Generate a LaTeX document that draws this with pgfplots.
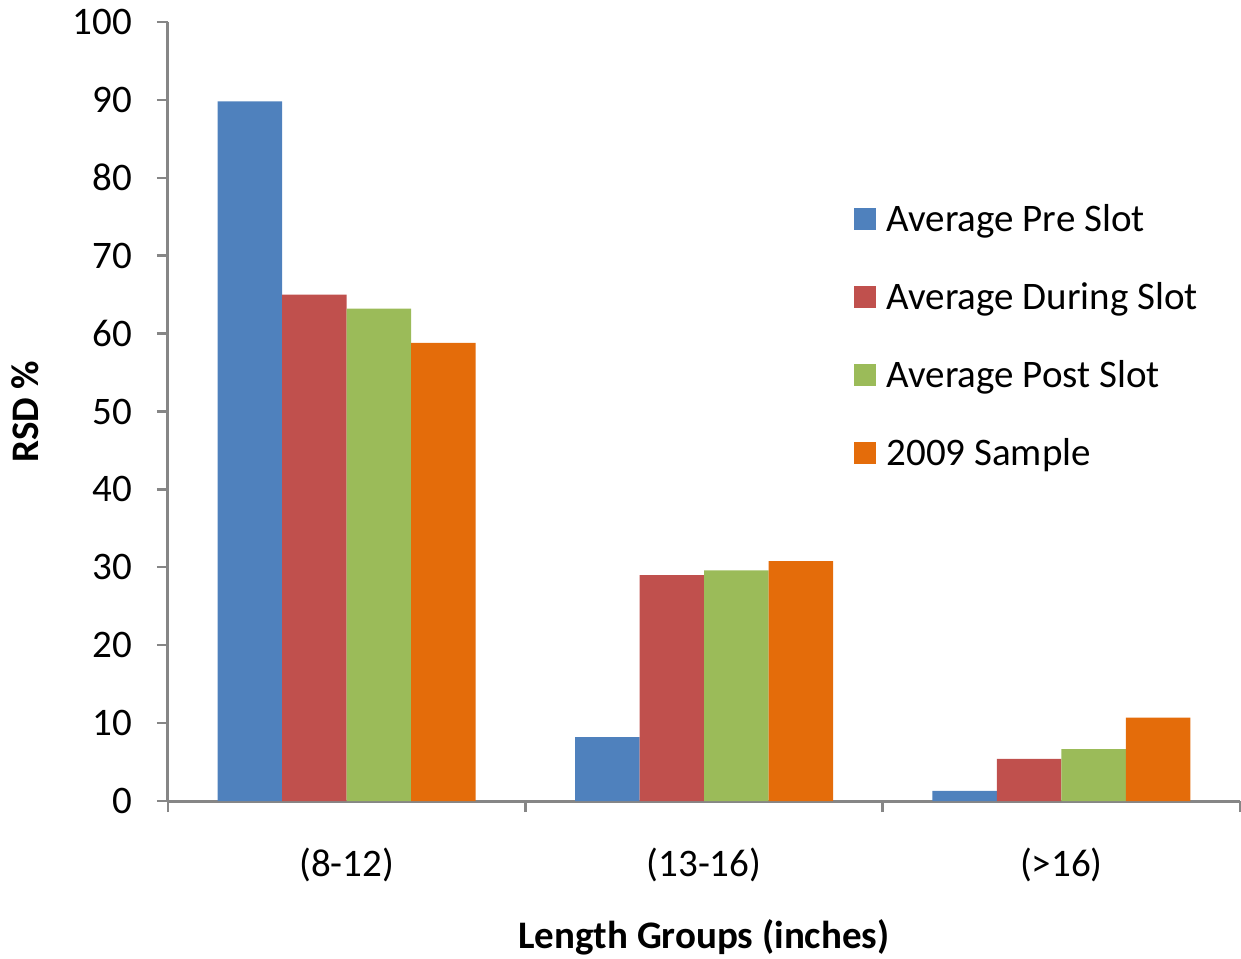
\documentclass[border=0pt]{standalone}
\usepackage{fontspec}
\setmainfont{Carlito}
\usepackage{pgfplots}
\pgfplotsset{compat=1.18}
\definecolor{cblue}{HTML}{4F81BD}
\definecolor{cred}{HTML}{C0504D}
\definecolor{cgreen}{HTML}{9BBB59}
\definecolor{corange}{HTML}{E46C0A}
\definecolor{axgray}{HTML}{868686}
\begin{document}
\begin{tikzpicture}
\useasboundingbox (-84pt,-78.5pt) rectangle (536.5pt,400.5pt);
\begin{axis}[
  at={(0,0)}, anchor=south west,
  scale only axis, width=536pt, height=389.5pt,
  font=\fontsize{19.5}{23}\selectfont,
  /pgf/number format/assume math mode=true,
  ybar=0pt, bar width=32.25pt,
  xmin=-0.5, xmax=2.5, ymin=0, ymax=100,
  xtick={-0.5,0.5,1.5,2.5}, xticklabels={},
  extra x ticks={0,1,2}, extra x tick labels={(8-12),(13-16),(>16)},
  extra x tick style={major tick length=0pt, xticklabel style={anchor=center, yshift=-32pt}},
  ytick={0,10,...,100},
  axis x line*=bottom, axis y line*=left,
  axis line style={draw=axgray, line width=1.5pt},
  tick style={draw=axgray, line width=1.2pt},
  tick align=outside,
  major tick length=5.5pt,
  yticklabel style={anchor=east, xshift=-9pt},
  xlabel={\bfseries Length Groups (inches)},
  ylabel={\bfseries RSD \%},
  every axis x label/.style={at={(axis description cs:0.5,-0.1746)}, anchor=center},
  every axis y label/.style={at={(axis description cs:-0.1334,0.5)}, anchor=center, rotate=90},
  legend style={draw=none, fill=none, at={(axis description cs:0.64,0.772)}, anchor=north west,
    row sep=20pt, column sep=3pt, font=\fontsize{19.5}{23}\selectfont, inner sep=0pt},
  legend cell align=left,
  legend image code/.code={\fill[#1] (0pt,-5.5pt) rectangle (11pt,5.5pt);},
]
\addplot[fill=cblue, draw=none] coordinates {(0,89.8) (1,8.2) (2,1.3)};
\addplot[fill=cred, draw=none] coordinates {(0,65.0) (1,29.0) (2,5.4)};
\addplot[fill=cgreen, draw=none] coordinates {(0,63.2) (1,29.6) (2,6.65)};
\addplot[fill=corange, draw=none] coordinates {(0,58.8) (1,30.8) (2,10.7)};
\legend{Average Pre Slot, Average During Slot, Average Post Slot, 2009 Sample}
\end{axis}
\end{tikzpicture}
\end{document}
